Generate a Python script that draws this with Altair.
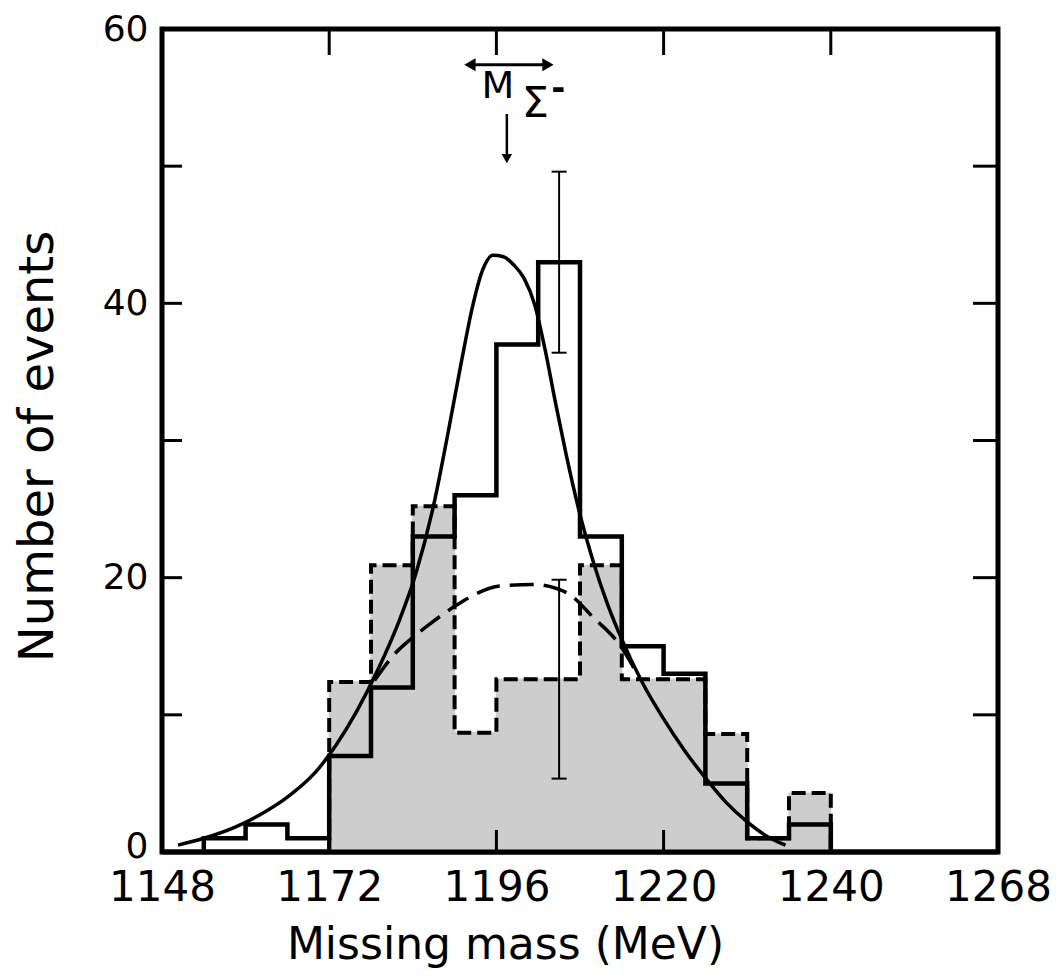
import altair as alt
import pandas as pd

# ---------------- data ----------------
solid_edges = [1154, 1160, 1166, 1172, 1178, 1184, 1190, 1196, 1202, 1208,
               1214, 1220, 1226, 1232, 1238, 1244]
solid_counts = [1, 2, 1, 7, 12, 23, 26, 37, 43, 23, 15, 13, 5, 1, 2]

dashed_edges = [1172, 1178, 1184, 1190, 1196, 1202, 1208, 1214, 1220, 1226,
                1232, 1238, 1244]
dashed_counts = [12.4, 20.9, 25.2, 8.7, 12.6, 12.6, 20.9, 12.6, 12.6, 8.6, 1.0, 4.3]

fit_x = [1150.3, 1154, 1158, 1162, 1166, 1170, 1173, 1176, 1179, 1182,
         1184.5, 1187, 1189, 1191, 1192.5, 1194, 1195.5, 1197, 1198.5, 1200,
         1201.5, 1203, 1204.5, 1206, 1208, 1210, 1212, 1214, 1217, 1220,
         1223, 1226, 1229, 1232, 1235, 1237.5]
fit_y = [0.5, 1.0, 1.7, 2.7, 4.0, 5.8, 7.8, 10.3, 13.3, 16.8,
         20.4, 25.3, 30.4, 35.8, 39.6, 42.4, 43.5, 43.4, 42.8, 41.8,
         39.9, 36.6, 32.7, 29.0, 24.6, 21.0, 18.0, 15.5, 12.3, 9.7,
         7.4, 5.4, 3.6, 2.2, 1.1, 0.5]

bg_x = [1178.5, 1181.7, 1183.2, 1186.9, 1190.3, 1192.6, 1196.5, 1201.3, 1206.1,
        1209.9, 1213.7, 1216.6]
bg_y = [12.5, 14.6, 15.3, 16.8, 18.0, 18.7, 19.4, 19.5, 18.9, 17.1, 15.1, 12.6]

err_x = [1205, 1205]
err_lo = [36.4, 5.35]
err_hi = [49.6, 19.85]

x_tick_values = [1148, 1172, 1196, 1220, 1244, 1268]
x_tick_labels = ["1148", "1172", "1196", "1220", "1240", "1268"]
y_tick_values = [0, 20, 40, 60]
y_inner_ticks = [10, 20, 30, 40, 50]
x_inner_ticks = [1172, 1196, 1220, 1244]

# annotation (M_Sigma-) anchor points in data units
arrow_h_x = [1192.2, 1203.4]
arrow_h_y = 57.4
arrow_v_x = 1197.5
arrow_v_y = [53.8, 50.55]
label_m = (1196.2, 55.8)
label_sigma = (1201.6, 54.5)
label_minus = (1204.9, 55.6)

W, H = 836, 823
FONT = "DejaVu Sans"
SHADE = "#cdcdcd"


def steps(edges, vals):
    pts = [(edges[0], 0.0)]
    for i, v in enumerate(vals):
        pts.append((edges[i], v))
        pts.append((edges[i + 1], v))
    pts.append((edges[-1], 0.0))
    return pd.DataFrame({"i": range(len(pts)), "x": [p[0] for p in pts],
                         "y": [p[1] for p in pts]})


solid_df = steps(solid_edges, solid_counts)
dashed_df = steps(dashed_edges, dashed_counts)
shade_df = pd.DataFrame({"x": dashed_edges[:-1], "x2": dashed_edges[1:],
                         "y": dashed_counts, "y2": [0.0] * len(dashed_counts)})
fit_df = pd.DataFrame({"i": range(len(fit_x)), "x": fit_x, "y": fit_y})
bg_df = pd.DataFrame({"i": range(len(bg_x)), "x": bg_x, "y": bg_y})
err_df = pd.DataFrame({"x": err_x, "y": err_lo, "y2": err_hi})
err_caps = pd.DataFrame({"x": err_x + err_x, "y": err_lo + err_hi})
yt_df = pd.DataFrame({"y": y_inner_ticks})
xt_df = pd.DataFrame({"x": x_inner_ticks})
base_df = pd.DataFrame({"y": [0.0]})
edge_df = pd.DataFrame({"x": [dashed_edges[0]], "y": [0.0],
                        "y2": [solid_counts[solid_edges.index(dashed_edges[0]) - 1]]})

label_expr = " : ".join(
    f"datum.value == {v} ? '{t}'" for v, t in zip(x_tick_values, x_tick_labels)
) + " : ''"

xscale = alt.Scale(domain=[1148, 1268], nice=False, zero=False)
yscale = alt.Scale(domain=[0, 60], nice=False, zero=False)

xaxis = alt.Axis(values=x_tick_values, labelExpr=label_expr, ticks=False,
                 domain=False, grid=False, labelFont=FONT, labelFontSize=42,
                 labelColor="black", labelPadding=15, labelFlush=False,
                 labelOverlap=False, title="Missing mass (MeV)", titleFont=FONT,
                 titleFontSize=44, titleFontWeight="normal", titleColor="black",
                 titleX=343, titleY=106, titleBaseline="alphabetic")
yaxis = alt.Axis(values=y_tick_values, ticks=False, domain=False, grid=False,
                 labelFont=FONT, labelFontSize=36, labelColor="black",
                 labelPadding=14, labelFlush=False, labelOverlap=False,
                 labelOffset={"condition": {"test": "datum.value == 0", "value": -6},
                              "value": 0},
                 title="Number of events", titleFont=FONT, titleFontSize=48,
                 titleFontWeight="normal", titleColor="black",
                 titleX=-110, titleY=417, titleBaseline="alphabetic")

X = alt.X("x:Q", scale=xscale, axis=xaxis)
Y = alt.Y("y:Q", scale=yscale, axis=yaxis)
order = alt.Order("i:Q")

shade = alt.Chart(shade_df).mark_rect(
    color=SHADE, stroke=SHADE, strokeWidth=1.2, opacity=1).encode(
    x=X, x2="x2:Q", y=Y, y2="y2:Q")

dashed_hist = alt.Chart(dashed_df).mark_line(
    color="black", strokeWidth=4, strokeDash=[14, 6]).encode(x=X, y=Y, order=order)

edge_rule = alt.Chart(edge_df).mark_rule(color="black", strokeWidth=4).encode(
    x=X, y=Y, y2="y2:Q")

solid_hist = alt.Chart(solid_df).mark_line(
    color="black", strokeWidth=4.5, strokeJoin="miter").encode(x=X, y=Y, order=order)

fit_line = alt.Chart(fit_df).mark_line(
    color="black", strokeWidth=3.5, interpolate="monotone").encode(x=X, y=Y, order=order)

bg_line = alt.Chart(bg_df).mark_line(
    color="black", strokeWidth=3.5, strokeDash=[24, 10],
    interpolate="monotone").encode(x=X, y=Y, order=order)

err_rules = alt.Chart(err_df).mark_rule(color="black", strokeWidth=2).encode(
    x=X, y=Y, y2="y2:Q")
err_tick = alt.Chart(err_caps).mark_tick(
    color="black", size=15, thickness=2, opacity=1, orient="horizontal").encode(x=X, y=Y)

left_ticks = alt.Chart(yt_df).mark_rule(color="black", strokeWidth=3).encode(
    y=Y, x=alt.value(0), x2=alt.value(20))
right_ticks = alt.Chart(yt_df).mark_rule(color="black", strokeWidth=3).encode(
    y=Y, x=alt.value(W - 25), x2=alt.value(W))
top_ticks = alt.Chart(xt_df).mark_rule(color="black", strokeWidth=3).encode(
    x=X, y=alt.value(0), y2=alt.value(26))
bottom_ticks = alt.Chart(xt_df).mark_rule(color="black", strokeWidth=3).encode(
    x=X, y=alt.value(H - 22), y2=alt.value(H))
baseline = alt.Chart(base_df).mark_rule(color="black", strokeWidth=5).encode(
    y=Y, x=alt.value(0), x2=alt.value(W))

# annotation
ah_df = pd.DataFrame({"x": arrow_h_x, "y": [arrow_h_y, arrow_h_y]})
arrow_h = alt.Chart(ah_df).mark_line(color="black", strokeWidth=3).encode(x=X, y=Y)
head_l = alt.Chart(pd.DataFrame({"x": [arrow_h_x[0]], "y": [arrow_h_y]})).mark_point(
    shape="triangle-left", filled=True, size=170, color="black", opacity=1).encode(x=X, y=Y)
head_r = alt.Chart(pd.DataFrame({"x": [arrow_h_x[1]], "y": [arrow_h_y]})).mark_point(
    shape="triangle-right", filled=True, size=170, color="black", opacity=1).encode(x=X, y=Y)
av_df = pd.DataFrame({"x": [arrow_v_x, arrow_v_x], "y": arrow_v_y})
arrow_v = alt.Chart(av_df).mark_line(color="black", strokeWidth=2.5).encode(x=X, y=Y)
head_d = alt.Chart(pd.DataFrame({"x": [arrow_v_x], "y": [arrow_v_y[1]]})).mark_point(
    shape="triangle-down", filled=True, size=110, color="black", opacity=1).encode(x=X, y=Y)

txt_m = alt.Chart(pd.DataFrame({"x": [label_m[0]], "y": [label_m[1]], "t": ["M"]})).mark_text(
    font=FONT, fontSize=38, color="black", align="center", baseline="middle").encode(
    x=X, y=Y, text="t:N")
txt_s = alt.Chart(pd.DataFrame({"x": [label_sigma[0]], "y": [label_sigma[1]], "t": ["Σ"]})).mark_text(
    font=FONT, fontSize=43, color="black", align="center", baseline="middle").encode(
    x=X, y=Y, text="t:N")
txt_minus = alt.Chart(pd.DataFrame({"x": [label_minus[0]], "y": [label_minus[1]], "t": ["-"]})).mark_text(
    font=FONT, fontSize=34, fontWeight="bold", color="black", align="center",
    baseline="middle").encode(x=X, y=Y, text="t:N")

chart = alt.layer(
    shade, dashed_hist, edge_rule, solid_hist, fit_line, bg_line, err_rules, err_tick,
    left_ticks, right_ticks, top_ticks, bottom_ticks, baseline,
    arrow_h, head_l, head_r, arrow_v, head_d, txt_m, txt_s, txt_minus,
).properties(
    width=W, height=H,
    autosize=alt.AutoSizeParams(type="none"),
    padding={"left": 154, "top": 21, "right": 56, "bottom": 118},
    background="white",
).configure_view(stroke="black", strokeWidth=5)

chart.save("out.html", embed_options={"renderer": "svg", "actions": False})
